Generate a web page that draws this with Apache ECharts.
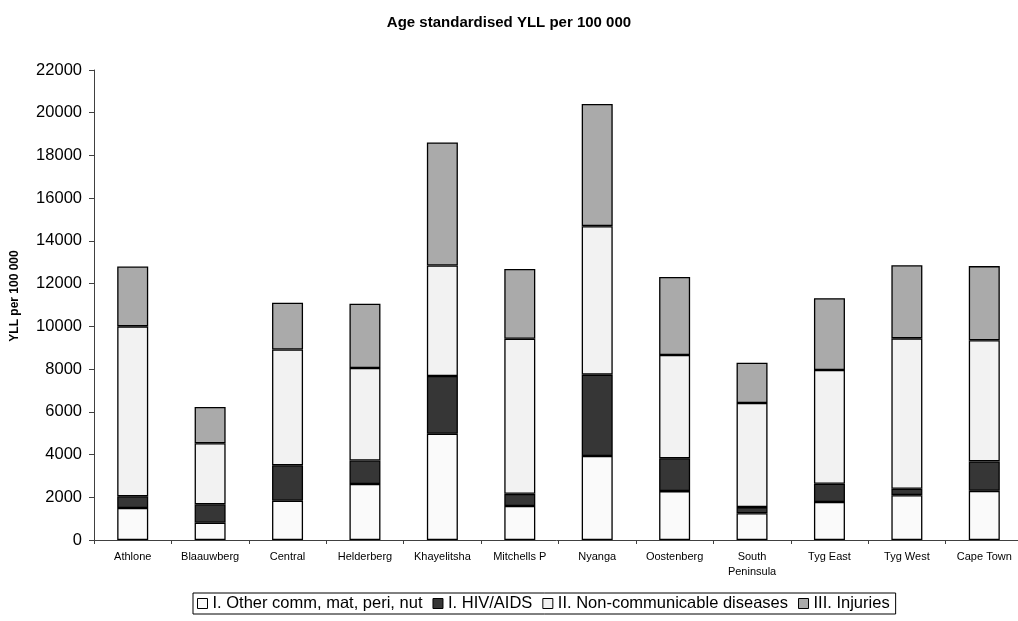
<!DOCTYPE html>
<html>
<head>
<meta charset="utf-8">
<title>Age standardised YLL per 100 000</title>
<script src="https://cdn.jsdelivr.net/npm/echarts@6/dist/echarts.min.js"></script>
<style>
  html, body { margin: 0; padding: 0; background: #fff; }
  #chart { width: 1018px; height: 621px; }
</style>
</head>
<body>
<div id="chart"></div>
<script>
// Sub-districts of Cape Town
const districts = ['Athlone', 'Blaauwberg', 'Central', 'Helderberg', 'Khayelitsha', 'Mitchells P',
  'Nyanga', 'Oostenberg', 'South\nPeninsula', 'Tyg East', 'Tyg West', 'Cape Town'];

// Age standardised years of life lost per 100 000, by cause group
const otherComm = [1500, 810, 1840, 2620, 4970, 1590, 3930, 2290, 1250, 1780, 2100, 2300];
const hivAids = [550, 860, 1660, 1100, 2710, 570, 3810, 1540, 290, 850, 300, 1380];
const nonCommunicable = [7950, 2860, 5420, 4330, 5170, 7260, 6950, 4830, 4870, 5330, 7040, 5670];
const injuries = [2800, 1700, 2190, 3010, 5760, 3270, 5720, 3650, 1890, 3360, 3420, 3470];

// Value axis ticks
const yTicks = [0, 2000, 4000, 6000, 8000, 10000, 12000, 14000, 16000, 18000, 20000, 22000];

const seriesNames = ['I. Other comm, mat, peri, nut', 'I. HIV/AIDS', 'II. Non-communicable diseases', 'III. Injuries'];
const seriesData = [otherComm, hivAids, nonCommunicable, injuries];
const seriesColors = ['#fafafa', '#363636', '#f2f2f2', '#aaaaaa'];

const FONT = '"Liberation Sans", Arial, sans-serif';

const chart = echarts.init(document.getElementById('chart'), null, { renderer: 'canvas' });

chart.setOption({
  animation: false,
  backgroundColor: '#ffffff',
  textStyle: { fontFamily: FONT, color: '#000' },
  title: {
    text: 'Age standardised YLL per 100 000',
    left: 'center',
    top: 10,
    textStyle: { fontFamily: FONT, fontSize: 15, fontWeight: 'bold', color: '#000' }
  },
  legend: {
    data: seriesNames,
    left: 193,
    top: 593,
    padding: [2, 6, 2, 4],
    borderColor: '#000',
    borderWidth: 1,
    icon: 'rect',
    itemWidth: 10,
    itemHeight: 10,
    itemGap: 10,
    textStyle: { fontFamily: FONT, fontSize: 16.5, color: '#000' },
    itemStyle: { borderColor: '#000', borderWidth: 1 }
  },
  grid: {
    left: 94,
    top: 70,
    width: 929,
    height: 470,
    containLabel: false,
    outerBoundsMode: 'none'
  },
  xAxis: {
    type: 'category',
    data: districts,
    axisLine: { lineStyle: { color: '#404040', width: 1 } },
    axisTick: { show: true, length: 4, lineStyle: { color: '#404040' } },
    axisLabel: { fontFamily: FONT, fontSize: 11, color: '#000', margin: 9, interval: 0, lineHeight: 15 }
  },
  yAxis: {
    type: 'value',
    min: yTicks[0],
    max: yTicks[yTicks.length - 1],
    interval: yTicks[1] - yTicks[0],
    name: 'YLL per 100 000',
    nameLocation: 'middle',
    nameGap: 73,
    nameTextStyle: { fontFamily: FONT, fontSize: 12, fontWeight: 'bold', color: '#000', padding: [0, 0, 0, 18] },
    axisLine: { show: true, lineStyle: { color: '#404040', width: 1 } },
    axisTick: { show: true, length: 5, lineStyle: { color: '#404040' } },
    splitLine: { show: false },
    axisLabel: { fontFamily: FONT, fontSize: 16.5, color: '#000', margin: 12, formatter: v => String(v) }
  },
  series: seriesNames.map((name, i) => ({
    name: name,
    type: 'bar',
    stack: 'yll',
    barWidth: 31,
    data: seriesData[i],
    itemStyle: { color: seriesColors[i], borderColor: '#000', borderWidth: 1.3 }
  }))
});
</script>
</body>
</html>
